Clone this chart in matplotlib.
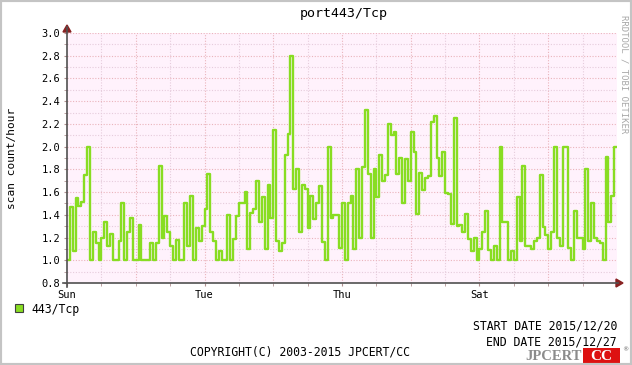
import matplotlib
matplotlib.use("Agg")
import matplotlib.pyplot as plt
import numpy as np
from matplotlib.patches import Polygon, Rectangle

# hourly values, 2015/12/20 00:00 .. 2015/12/28 00:00
sun_mon = [1.0, 1.47, 1.08, 1.55, 1.48, 1.51, 1.75, 2.0, 1.0, 1.25,
           1.15, 1.0, 1.2, 1.34, 1.13, 1.23, 1.0, 1.0, 1.17, 1.5,
           1.0, 1.25, 1.37, 1.0, 1.0, 1.31, 1.0, 1.0, 1.0, 1.15,
           1.0, 1.15, 1.83, 1.2, 1.39, 1.25, 1.13, 1.0, 1.18, 1.0,
           1.0, 1.5, 1.13, 1.57, 1.0, 1.28, 1.17, 1.3]
tue_wed = [1.45, 1.76, 1.25, 1.17, 1.0, 1.08, 1.0, 1.0, 1.4, 1.0,
           1.19, 1.39, 1.5, 1.5, 1.6, 1.1, 1.42, 1.45, 1.7, 1.34,
           1.56, 1.1, 1.66, 1.37, 2.15, 1.17, 1.08, 1.15, 1.93, 2.11,
           2.8, 1.63, 1.8, 1.25, 1.66, 1.63, 1.28, 1.57, 1.36, 1.5,
           1.65, 1.16, 1.0, 2.0, 1.37, 1.4, 1.4, 1.11]
thu_fri = [1.5, 1.0, 1.5, 1.57, 1.1, 1.8, 1.2, 1.82, 2.32, 1.76,
           1.2, 1.8, 1.56, 1.93, 1.7, 1.75, 2.2, 2.1, 2.13, 1.76,
           1.9, 1.5, 1.89, 1.7, 2.13, 1.95, 1.41, 1.77, 1.62, 1.72,
           1.74, 2.22, 2.27, 1.9, 1.74, 1.95, 1.59, 1.58, 1.32, 2.25,
           1.3, 1.31, 1.25, 1.41, 1.19, 1.08, 1.2, 1.0]
sat_sun = [1.1, 1.25, 1.43, 1.09, 1.0, 1.13, 1.0, 2.0, 1.34, 1.34,
           1.0, 1.08, 1.0, 1.56, 1.17, 1.83, 1.13, 1.13, 1.1, 1.17,
           1.2, 1.75, 1.29, 1.22, 1.1, 1.25, 2.0, 1.2, 1.13, 2.0,
           2.0, 1.11, 1.0, 1.43, 1.2, 1.2, 1.1, 1.8, 1.17, 1.5,
           1.2, 1.17, 1.15, 1.0, 1.91, 1.34, 1.57, 2.0]
values = sun_mon + tue_wed + thu_fri + sat_sun
day_labels = ["Sun", "Tue", "Thu", "Sat"]
y_ticks = [0.8, 1.0, 1.2, 1.4, 1.6, 1.8, 2.0, 2.2, 2.4, 2.6, 2.8, 3.0]

W, H = 632, 365
mono = "DejaVu Sans Mono"

def px(x, y):
    return (x / W, 1 - y / H)

fig = plt.figure(figsize=(W / 100, H / 100), dpi=100)
fig.patch.set_facecolor("white")
ax = fig.add_axes([67 / W, 1 - 283 / H, 550 / W, 250 / H])
ax.set_facecolor("#fff2fc")

hours = np.arange(len(values) + 1)
ax.plot(hours, values + [values[-1]], drawstyle="steps-post",
        color="#88dd22", lw=1.7, zorder=3)

ax.set_xlim(0, 192)
ax.set_ylim(0.8, 3.0)

# grid, rrdtool style
for h in range(12, 192, 12):
    major = h % 24 == 0
    ax.axvline(h, color="#eab4bc" if major else "#e6ccdc",
               lw=0.8, ls=(0, (1, 1.5)), zorder=1)
for v in np.arange(0.9, 3.01, 0.1):
    major = round(v * 10) % 2 == 0
    ax.axhline(v, color="#eab4bc" if major else "#e6ccdc",
               lw=0.8, ls=(0, (1, 1.5)), zorder=1)

ax.set_xticks([0, 48, 96, 144])
ax.set_xticklabels(day_labels, fontfamily=mono, fontsize=7.5)
ax.set_xticks(np.arange(0, 193, 12), minor=True)
ax.set_yticks(y_ticks)
ax.set_yticklabels(["%.1f" % t for t in y_ticks], fontfamily=mono, fontsize=7.5)
ax.set_yticks(np.arange(0.8, 3.01, 0.1), minor=True)
ax.tick_params(axis="both", which="both", length=2, color="#b09090", pad=3)
for s in ax.spines.values():
    s.set_visible(False)

# axis lines and arrows
fig.add_artist(plt.Line2D([67 / W, 67 / W], [1 - 287 / H, 1 - 27 / H],
                          color="#505050", lw=1.2, transform=fig.transFigure))
fig.add_artist(plt.Line2D([63 / W, 618 / W], [1 - 283 / H, 1 - 283 / H],
                          color="#505050", lw=1.2, transform=fig.transFigure))
fig.add_artist(Polygon([px(63, 32), px(71, 32), px(67, 25)], closed=True,
                       color="#882222", transform=fig.transFigure))
fig.add_artist(Polygon([px(616, 279), px(616, 287), px(623, 283)], closed=True,
                       color="#882222", transform=fig.transFigure))

fig.text(*px(344, 14), "port443/Tcp", fontfamily=mono, fontsize=9.5,
         ha="center", va="center")
fig.text(*px(12, 158), "scan count/hour", fontfamily=mono, fontsize=8,
         rotation=90, ha="center", va="center")
fig.text(*px(624, 15), "RRDTOOL / TOBI OETIKER", fontfamily=mono, fontsize=6.5,
         rotation=270, ha="center", va="top", color="#a8a8a8")

# legend
fig.add_artist(Rectangle(px(15, 312), 8 / W, 8 / H, facecolor="#88dd22",
                         edgecolor="#404040", lw=0.8, transform=fig.transFigure))
fig.text(*px(31, 309), "443/Tcp", fontfamily=mono, fontsize=8.3,
         ha="left", va="center")
fig.text(*px(617, 326), "START DATE 2015/12/20", fontfamily=mono, fontsize=8.3,
         ha="right", va="center")
fig.text(*px(617, 342), "END DATE 2015/12/27", fontfamily=mono, fontsize=8.3,
         ha="right", va="center")
fig.text(*px(300, 352), "COPYRIGHT(C) 2003-2015 JPCERT/CC", fontfamily=mono,
         fontsize=8.3, ha="center", va="center")

# logo
fig.text(*px(582, 356), "JPCERT", fontfamily="Liberation Serif", fontweight="bold",
         fontsize=10.5, ha="right", va="center", color="#8c8c8c")
fig.add_artist(Rectangle(px(583, 363), 37 / W, 15 / H, facecolor="#dd1111",
                         edgecolor="none", transform=fig.transFigure))
fig.text(*px(601, 356), "CC", fontfamily="Liberation Serif", fontweight="bold",
         fontsize=11, ha="center", va="center", color="white")
fig.text(*px(625, 350), "\u00ae", fontsize=4.5, ha="center", va="center",
         color="#666666")

# frame
fig.add_artist(Rectangle((0, 0), 1, 1, fill=False, edgecolor="#c4c4c4", lw=3,
                         transform=fig.transFigure))

fig.savefig("out.png", dpi=100)
